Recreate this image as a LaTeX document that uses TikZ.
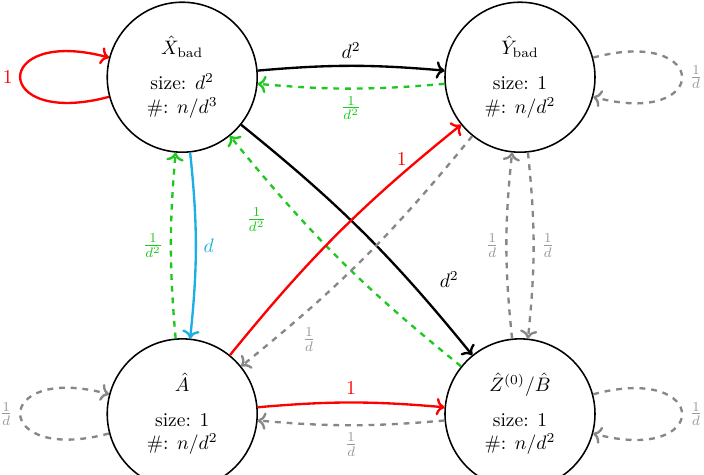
\documentclass[tikz,border=0pt]{standalone}
\usepackage{amsmath}
\usepackage{amssymb}
\usepackage{xcolor}
\usepackage{tikz}
\usetikzlibrary{arrows.meta, positioning, calc}

\definecolor{edgegreen}{RGB}{30,200,30}
\definecolor{edgecyan}{RGB}{27,175,230}
\definecolor{edgegray}{RGB}{135,135,135}

\begin{document}
\begin{tikzpicture}[
        setnode/.style={circle, draw, thick, minimum size=2.7cm, inner sep=0pt, align=center},
        heavy/.style={->, very thick, black},
        redline/.style={->, very thick, red},
        cyanline/.style={->, very thick, edgecyan},
        greendash/.style={->, very thick, dashed, edgegreen},
        graydash/.style={->, very thick, dashed, edgegray, text=gray!80}
    ]
        \useasboundingbox (0,0) rectangle (12.672,8.55);

        % the four sets
        \node[setnode] (Xbad) at (3.28, 7.16) {$\hat{X}_{\text{bad}}$\\[6pt] size: $d^2$\\ \#: $n/d^3$};
        \node[setnode] (Ybad) at (9.36, 7.16) {$\hat{Y}_{\text{bad}}$\\[6pt] size: $1$\\ \#: $n/d^2$};
        \node[setnode] (Ahat) at (3.28, 1.10) {$\hat{A}$\\[6pt] size: $1$\\ \#: $n/d^2$};
        \node[setnode] (Zhat) at (9.36, 1.10) {$\hat{Z}^{(0)}/\hat{B}$\\[6pt] size: $1$\\ \#: $n/d^2$};

        % top row
        \draw[heavy] (Xbad) to[bend left=5] node[above] {$d^2$} (Ybad);
        \draw[greendash] (Ybad) to[bend left=5] node[below] {$\frac{1}{d^2}$} (Xbad);

        % bottom row
        \draw[redline] (Ahat) to[bend left=5] node[above] {$1$} (Zhat);
        \draw[graydash] (Zhat) to[bend left=5] node[below] {$\frac{1}{d}$} (Ahat);

        % left column
        \draw[cyanline] (Xbad) to[bend left=6] node[right] {$d$} (Ahat);
        \draw[greendash] (Ahat) to[bend left=5] node[left] {$\frac{1}{d^2}$} (Xbad);

        % right column
        \draw[graydash] (Zhat) to[bend left=6] node[left] {$\frac{1}{d}$} (Ybad);
        \draw[graydash] (Ybad) to[bend left=6] node[right] {$\frac{1}{d}$} (Zhat);

        % diagonals
        \draw[heavy] (Xbad) to[bend left=6] node[pos=0.8, above right, inner sep=6pt] {$d^2$} (Zhat);
        \draw[greendash] (Zhat) to[bend left=6] node[pos=0.78, below left, inner sep=6pt] {$\frac{1}{d^2}$} (Xbad);
        \draw[redline] (Ahat) to[bend left=6] node[pos=0.78, above, inner sep=4pt] {$1$} (Ybad);
        \draw[graydash] (Ybad) to[bend left=6] node[pos=0.8, below right, inner sep=3pt] {$\frac{1}{d}$} (Ahat);

        % self loops
        \draw[redline] (Xbad) to[out=195, in=165, looseness=8] node[left] {$1$} (Xbad);
        \draw[graydash] (Ybad) to[out=15, in=-15, looseness=8] node[right] {$\frac{1}{d}$} (Ybad);
        \draw[graydash] (Ahat) to[out=195, in=165, looseness=8] node[left] {$\frac{1}{d}$} (Ahat);
        \draw[graydash] (Zhat) to[out=15, in=-15, looseness=8] node[right] {$\frac{1}{d}$} (Zhat);
    \end{tikzpicture}
\end{document}
